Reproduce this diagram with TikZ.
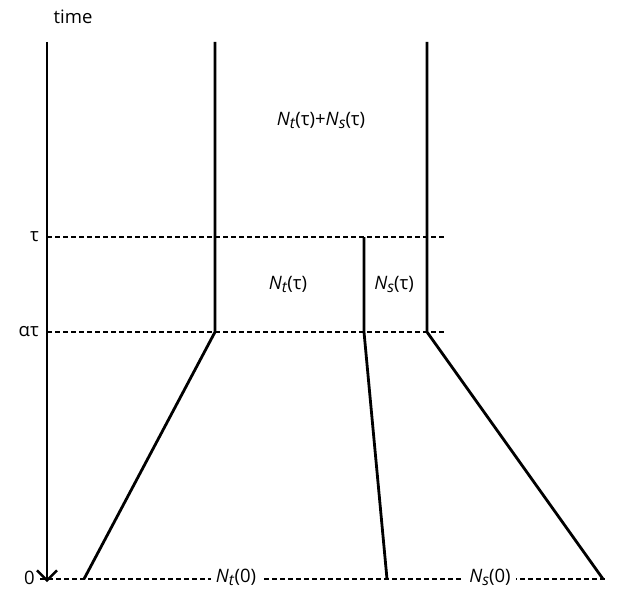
\documentclass[tikz,border=0pt]{standalone}
\usepackage{fontspec}
\setmainfont{Open Sans}
\usepackage{tikz}
\usetikzlibrary{arrows.meta,positioning,calc}

\newcommand{\popsize}[2]{\textit{N}\raisebox{-0.3ex}{\fontsize{15.5}{15.5}\selectfont\textit{#1}}(#2)}

\begin{document}
\begin{tikzpicture}[
    x=1pt, y=-1pt,
    lineage/.style={line width=2.8pt, line join=miter},
    level/.style={line width=1.3pt, dash pattern=on 4.5pt off 3.5pt},
    lbl/.style={font=\fontsize{18.5}{21}\selectfont, inner sep=1pt},
    onlevel/.style={lbl, fill=white, inner xsep=5pt, inner ysep=0pt},
    arrow/.style={-{Straight Barb[length=10pt, width=20pt, line width=2.4pt]}, line width=2.8pt},
]
\useasboundingbox (0,0) rectangle (618,591);

% time axis
\node[lbl] (time) at (73,17) {time};
\coordinate (ax_top) at (47,42);
\coordinate (ax_end) at (47,582);
\draw[arrow] (ax_top) -- (ax_end);

% levels
\node[lbl, anchor=east] (tau) at (40,237) {τ};
\node[lbl, anchor=east] (atau) at (40,332) {ατ};
\node[lbl, anchor=east] (zero) at (36,578) {0};
\coordinate (tau_end) at (446,237);
\coordinate (atau_end) at (446,332);
\coordinate (zero_end) at (606,579);
\draw[level] (47,237) -- (tau_end);
\draw[level] (47,332) -- (atau_end);
\draw[level] (40,579) -- (zero_end);

% lineages
\coordinate (t_top) at (215,42);
\coordinate (t_split) at (215,332);
\coordinate (t_base) at (84,579);
\coordinate (s_top) at (364,237);
\coordinate (s_split) at (364,332);
\coordinate (s_base) at (387,579);
\coordinate (r_top) at (427,42);
\coordinate (r_split) at (427,332);
\coordinate (r_base) at (603,579);
\draw[lineage] (t_top) -- (t_split) -- (t_base);
\draw[lineage] (s_top) -- (s_split) -- (s_base);
\draw[lineage] (r_top) -- (r_split) -- (r_base);

% population sizes
\node[lbl] (both) at (321,120) {\popsize{t}{τ}+\popsize{s}{τ}};
\node[lbl] (nt_tau) at (288,284) {\popsize{t}{τ}};
\node[lbl] (ns_tau) at (394,284) {\popsize{s}{τ}};
\node[onlevel] (nt_zero) at (236,577) {\popsize{t}{0}};
\node[onlevel] (ns_zero) at (490,577) {\popsize{s}{0}};
\end{tikzpicture}
\end{document}
